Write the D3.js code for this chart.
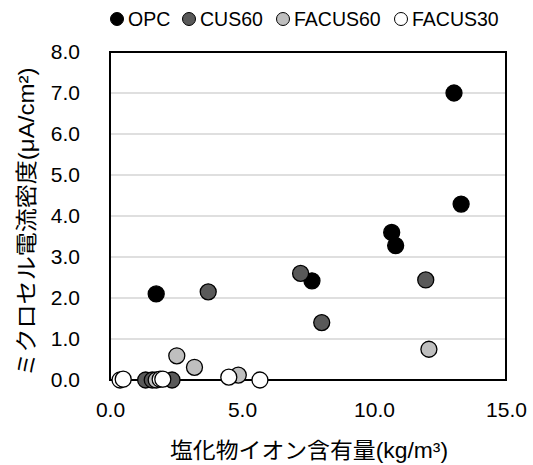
<!DOCTYPE html>
<html>
<head>
<meta charset="utf-8">
<script src="https://cdn.jsdelivr.net/npm/d3@7"></script>
<style>
  body { margin: 0; background: #fff; }
  text { font-family: "Liberation Sans", Arial, "Noto Sans CJK JP", sans-serif; }
</style>
</head>
<body>
<div class="chart"></div>
<script>
// series: [chloride content kg/m3, macrocell current density uA/cm2]
const seriesNames = ["OPC", "CUS60", "FACUS60", "FACUS30"];
const seriesFill = ["#000000", "#595959", "#bfbfbf", "#ffffff"];
const opc = [[1.75, 2.1], [7.65, 2.42], [10.67, 3.6], [10.82, 3.28], [13.3, 4.29], [13.03, 7.0]];
const cus60 = [[3.72, 2.15], [7.22, 2.6], [8.02, 1.4], [11.96, 2.44], [1.35, 0.0], [1.6, 0.0], [2.35, 0.0]];
const facus60 = [[2.53, 0.59], [3.2, 0.31], [4.86, 0.12], [12.08, 0.75], [1.75, 0.0]];
const facus30 = [[0.38, 0.0], [0.5, 0.02], [1.9, 0.02], [2.0, 0.02], [4.5, 0.07], [5.68, 0.0]];
const xTicks = [0, 5, 10, 15];
const yTicks = [0, 1, 2, 3, 4, 5, 6, 7, 8];

const width = 533, height = 465;
const margin = { top: 52, right: 27, bottom: 85, left: 110 };

const svg = d3.select(".chart")
  .append("svg")
  .attr("width", width)
  .attr("height", height);

const x = d3.scaleLinear()
  .domain([0, 15])
  .range([margin.left, width - margin.right]);

const y = d3.scaleLinear()
  .domain([0, 8])
  .range([height - margin.bottom, margin.top]);

// gridlines
svg.append("g")
  .selectAll("line")
  .data(yTicks.slice(1, -1))
  .join("line")
  .attr("x1", x(0))
  .attr("x2", x(15))
  .attr("y1", d => y(d))
  .attr("y2", d => y(d))
  .attr("stroke", "#c0c0c0")
  .attr("stroke-width", 1.2);

// frame
svg.append("rect")
  .attr("x", x(0))
  .attr("y", y(8))
  .attr("width", x(15) - x(0))
  .attr("height", y(0) - y(8))
  .attr("fill", "none")
  .attr("stroke", "#000")
  .attr("stroke-width", 2);

const xAxis = g => g
  .attr("transform", `translate(0,${y(0)})`)
  .call(d3.axisBottom(x).tickValues(xTicks).tickFormat(d3.format(".1f")).tickSize(0).tickPadding(22))
  .call(g => g.select(".domain").remove())
  .call(g => g.selectAll("text").attr("font-size", 21).attr("fill", "#000"));

const yAxis = g => g
  .attr("transform", `translate(${margin.left},0)`)
  .call(d3.axisLeft(y).tickValues(yTicks).tickFormat(d3.format(".1f")).tickSize(0).tickPadding(30))
  .call(g => g.select(".domain").remove())
  .call(g => g.selectAll("text").attr("font-size", 21).attr("fill", "#000"));

svg.append("g").call(xAxis);
svg.append("g").call(yAxis);

// axis titles
svg.append("text")
  .attr("x", 309)
  .attr("y", 458)
  .attr("text-anchor", "middle")
  .attr("font-size", 22)
  .attr("textLength", 278)
  .attr("lengthAdjust", "spacingAndGlyphs")
  .text("塩化物イオン含有量(kg/m³)");

svg.append("text")
  .attr("transform", `translate(34,222) rotate(-90)`)
  .attr("text-anchor", "middle")
  .attr("font-size", 22)
  .attr("textLength", 309)
  .attr("lengthAdjust", "spacingAndGlyphs")
  .text("ミクロセル電流密度(μA/cm²)");

// points
[opc, cus60, facus60, facus30].forEach((data, i) => {
  svg.append("g")
    .selectAll("circle")
    .data(data)
    .join("circle")
    .attr("cx", d => x(d[0]))
    .attr("cy", d => y(d[1]))
    .attr("r", 8)
    .attr("fill", seriesFill[i])
    .attr("stroke", "#000")
    .attr("stroke-width", 1.3);
});

// legend
const legendX = [117, 189, 283, 401];
const legend = svg.append("g")
  .selectAll("g")
  .data(seriesNames)
  .join("g")
  .attr("transform", (d, i) => `translate(${legendX[i]},19)`);

legend.append("circle")
  .attr("r", 6.5)
  .attr("fill", (d, i) => seriesFill[i])
  .attr("stroke", "#000")
  .attr("stroke-width", 1);

legend.append("text")
  .attr("x", 11)
  .attr("dy", "0.35em")
  .attr("font-size", 19.5)
  .text(d => d);
</script>
</body>
</html>
